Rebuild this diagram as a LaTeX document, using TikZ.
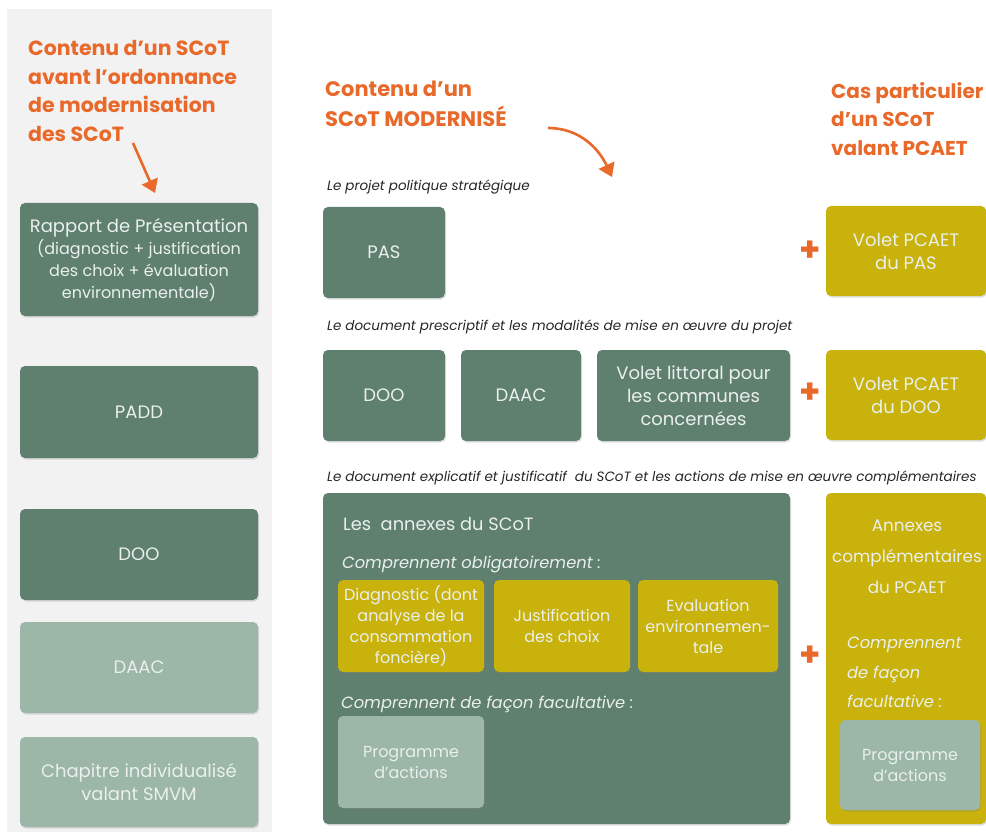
\documentclass[tikz,border=0pt]{standalone}
\usepackage{fontspec}
\setmainfont{Poppins}
\usetikzlibrary{arrows.meta,shadows}

\definecolor{vertfonce}{HTML}{5F7F6F}
\definecolor{vertclair}{HTML}{9CB6A7}
\definecolor{jaunepcaet}{HTML}{C9B20C}
\definecolor{orangetitre}{HTML}{E8692A}
\definecolor{fondgris}{HTML}{F2F2F2}
\definecolor{textebox}{HTML}{EAF0EC}

\newcommand{\textepetit}{\fontsize{16}{21}\selectfont}

\tikzset{
  boite/.style={rounded corners=5pt, inner sep=2pt, align=center, text=textebox,
    font=\fontsize{18}{23}\selectfont,
    drop shadow={opacity=0.25, shadow xshift=1pt, shadow yshift=-1.5pt}},
  fonce/.style={boite, fill=vertfonce},
  clair/.style={boite, fill=vertclair},
  jaune/.style={boite, fill=jaunepcaet},
  petit/.style={font=\textepetit},
  titre/.style={anchor=north west, align=left, inner sep=0pt, text=orangetitre,
    font=\bfseries\fontsize{20.5}{28.7}\selectfont},
  legende/.style={anchor=base west, inner sep=0pt, text=black!85,
    font=\itshape\fontsize{13.5}{15}\selectfont},
  interne/.style={anchor=base west, inner sep=0pt, text=textebox},
  plus/.style={text=orangetitre, font=\bfseries\fontsize{34}{34}\selectfont},
  fleche/.style={orangetitre, line width=2.6pt, -{Triangle[length=13pt,width=17pt]}}
}

\begin{document}
\begin{tikzpicture}[x=1pt,y=-1pt]
\useasboundingbox (0,0) rectangle (986,832);

% colonne de gauche
\fill[fondgris] (7,9) rectangle (272,832);
\node[titre] (titreavant) at (28,40) {Contenu d’un SCoT\\avant l’ordonnance\\de modernisation\\des SCoT};
\coordinate (fa1) at (133,143);
\coordinate (fa2) at (155,193);
\draw[fleche] (fa1) -- (fa2);

\node[fonce, minimum width=238pt, minimum height=113pt] (rapport) at (139,259.5)
  {Rapport de Présentation\\[-1pt]{\textepetit (diagnostic + justification}\\[-1pt]{\textepetit des choix + évaluation}\\[-1pt]{\textepetit environnementale)}};
\node[fonce, minimum width=238pt, minimum height=92pt] (padd) at (139,412) {PADD};
\node[fonce, minimum width=238pt, minimum height=91pt] (dooavant) at (139,554.5) {DOO};
\node[clair, minimum width=238pt, minimum height=91pt] (daacavant) at (139,667.5) {DAAC};
\node[clair, minimum width=238pt, minimum height=90pt] (smvm) at (139,782) {Chapitre individualisé\\valant SMVM};

% SCoT modernise
\node[titre, font=\bfseries\fontsize{21}{30}\selectfont] (titremoderne) at (325,81) {Contenu d’un\\SCoT MODERNISÉ};
\coordinate (fb1) at (548,128);
\coordinate (fb2) at (612,177);
\draw[fleche] (fb1) to[out=0,in=115] (fb2);
\node[titre, font=\bfseries\fontsize{20}{28.5}\selectfont] (titrepcaet) at (831,82) {Cas particulier\\d’un SCoT\\valant PCAET};

\node[legende] (leg1) at (327,190) {Le projet politique stratégique};
\node[fonce, minimum width=122pt, minimum height=91pt] (pas) at (384,252.5) {PAS};
\node[plus] (plus1) at (810,251) {+};
\node[jaune, minimum width=160pt, minimum height=90pt] (pcaetpas) at (906,251) {Volet PCAET\\du PAS};

\node[legende] (leg2) at (327,330) {Le document prescriptif et les modalités de mise en œuvre du projet};
\node[fonce, minimum width=122pt, minimum height=91pt] (doo) at (384,395.5) {DOO};
\node[fonce, minimum width=120pt, minimum height=91pt] (daac) at (521,395.5) {DAAC};
\node[fonce, minimum width=193pt, minimum height=91pt] (littoral) at (693.5,395.5) {Volet littoral pour\\les communes\\concernées};
\node[plus] (plus2) at (810,393) {+};
\node[jaune, minimum width=160pt, minimum height=90pt] (pcaetdoo) at (906,395) {Volet PCAET\\du DOO};

\node[legende] (leg3) at (327,481) {Le document explicatif et justificatif\ \ du SCoT et les actions de mise en œuvre complémentaires};

% annexes du SCoT
\node[fonce, minimum width=467pt, minimum height=331pt] (annexes) at (556.5,658.5) {};
\node[interne, font=\fontsize{17.8}{20}\selectfont] (annexestitre) at (343,530) {Les\ \ annexes du SCoT};
\node[interne, font=\itshape\fontsize{16.3}{18}\selectfont] (oblig) at (342,568) {Comprennent obligatoirement :};
\node[jaune, petit, minimum width=146pt, minimum height=92pt] (diag) at (411,626) {Diagnostic (dont\\analyse de la\\consommation\\foncière)};
\node[jaune, petit, minimum width=136pt, minimum height=92pt] (justif) at (562,626) {Justification\\des choix};
\node[jaune, petit, minimum width=140pt, minimum height=92pt] (evaluation) at (708,626) {Evaluation\\environnemen-\\tale};
\node[interne, font=\itshape\fontsize{16.3}{18}\selectfont] (facult) at (341,708) {Comprennent de façon facultative :};
\node[clair, petit, minimum width=146pt, minimum height=92pt] (prog) at (411,762) {Programme\\d’actions};

% annexes du PCAET
\node[plus] (plus3) at (810,656) {+};
\node[jaune, minimum width=160pt, minimum height=331pt] (pcaetann) at (906,658.5) {};
\node[text=textebox, align=center, inner sep=0pt, anchor=north, font=\fontsize{16.8}{31}\selectfont] (pcaetanntitre) at (907,520) {Annexes\\complémentaires\\du PCAET};
\node[interne, anchor=north west, align=left, font=\itshape\fontsize{16.3}{29.5}\selectfont] (pcaetfacult) at (847,637) {Comprennent\\de façon\\facultative :};
\node[clair, petit, minimum width=140pt, minimum height=90pt] (progpcaet) at (910,765) {Programme\\d’actions};
\end{tikzpicture}
\end{document}
